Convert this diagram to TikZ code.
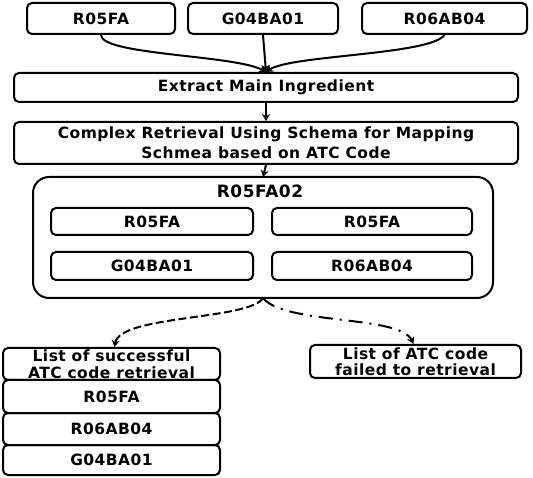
\documentclass[tikz,border=0pt]{standalone}
\usepackage{fontspec}
\setmainfont{DejaVu Sans}[LetterSpace=3]
\usetikzlibrary{arrows.meta}
\begin{document}
\begin{tikzpicture}[x=1pt,y=-1pt,
  box/.style={draw,line width=2pt,rounded corners=5pt,inner sep=0pt,
    font=\bfseries\fontsize{15.5}{16}\selectfont,align=center},
  twoline/.style={font=\bfseries\fontsize{15.5}{#1}\selectfont},
  outer/.style={draw,line width=2pt,rounded corners=16pt},
  link/.style={line width=2pt,-{Stealth[length=7pt,width=8pt]}}]
\useasboundingbox (0,0) rectangle (533,478);
% top row of codes
\node[box,minimum width=148pt,minimum height=31pt] (a) at (101,18.5) {R05FA};
\node[box,minimum width=150pt,minimum height=31pt] (b) at (263,18.5) {G04BA01};
\node[box,minimum width=165pt,minimum height=31pt] (c) at (444.5,18.5) {R06AB04};
% processing steps
\node[box,minimum width=504pt,minimum height=29pt] (ext) at (266,87.5) {Extract Main Ingredient};
\node[box,minimum width=504pt,minimum height=42pt,twoline=20] (cr) at (266,143)
  {Complex Retrieval Using Schema for Mapping\\Schmea based on ATC Code};
% group box
\draw[outer] (33,177) rectangle (493,298);
\coordinate (gtop) at (263,177);
\coordinate (gbot) at (263,298);
\node[font=\bfseries\fontsize{17}{18}\selectfont] (gt) at (260,191) {R05FA02};
\node[box,minimum width=202pt,minimum height=27pt] (g1) at (152,221.5) {R05FA};
\node[box,minimum width=200pt,minimum height=27pt] (g2) at (372,221.5) {R05FA};
\node[box,minimum width=202pt,minimum height=28pt] (g3) at (152,266) {G04BA01};
\node[box,minimum width=200pt,minimum height=28pt] (g4) at (372,266) {R06AB04};
% results
\node[box,minimum width=217pt,minimum height=32pt,twoline=16.5] (ok) at (111.5,364)
  {List of successful\\ATC code retrieval};
\node[box,minimum width=217pt,minimum height=33pt] (r1) at (111.5,396.5) {R05FA};
\node[box,minimum width=217pt,minimum height=32pt] (r2) at (111.5,429) {R06AB04};
\node[box,minimum width=217pt,minimum height=30pt] (r3) at (111.5,460) {G04BA01};
\node[box,minimum width=211pt,minimum height=33pt,twoline=16.5] (bad) at (415.5,361.5)
  {List of ATC code\\failed to retrieval};
% connectors
\draw[link] (a.south) .. controls (101,55) and (235,55) .. (ext.north);
\draw[link] (c.south) .. controls (430,55) and (291,55) .. (ext.north);
\draw[link] (b.south) -- (ext.north);
\draw[link] (ext.south) -- (cr.north);
\draw[link] (cr.south) -- (gtop);
\draw[link,dash pattern=on 8pt off 3.5pt] (gbot) .. controls (250,320) and (120,315) .. ([xshift=3pt]ok.north);
\draw[link,dash pattern=on 14pt off 7pt on 2pt off 7pt] (gbot) .. controls (285,325) and (400,315) .. ([xshift=-2pt]bad.north);
\end{tikzpicture}
\end{document}
